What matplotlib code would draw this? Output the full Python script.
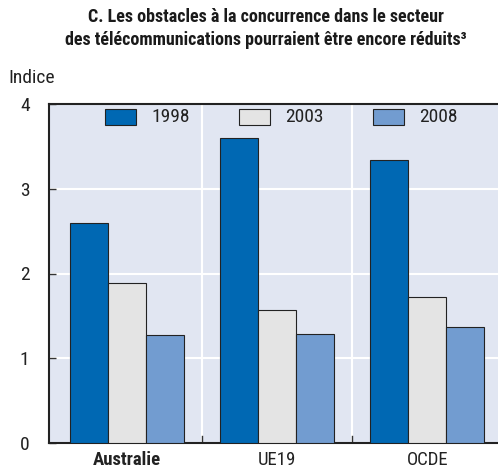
import matplotlib
matplotlib.use("Agg")
import matplotlib.pyplot as plt
from matplotlib.patches import Rectangle
import numpy as np

plt.rcParams['font.family'] = ['Roboto Condensed', 'DejaVu Sans']

categories = ["Australie", "UE19", "OCDE"]
years = ["1998", "2003", "2008"]
v1998 = [2.60, 3.60, 3.34]
v2003 = [1.89, 1.57, 1.72]
v2008 = [1.27, 1.29, 1.37]
series = [v1998, v2003, v2008]
colors = ["#0068B3", "#E4E4E4", "#729CD0"]
yticks = [0, 1, 2, 3, 4]

W, H = 498, 471
fig = plt.figure(figsize=(W / 100, H / 100), dpi=100)
ax = fig.add_axes([49 / W, 28 / H, 449 / W, 339 / H])
ax.set_facecolor("#E1E6F2")

x = np.arange(len(categories))
w = 0.253
for i, (vals, c, y) in enumerate(zip(series, colors, years)):
    ax.bar(x + (i - 1) * w, vals, w, color=c, edgecolor="#222222", linewidth=0.8, label=y, zorder=3)

ax.set_xlim(-0.52, 2.47)
ax.set_ylim(0, 4)
ax.set_yticks(yticks)
ax.set_yticklabels([str(t) for t in yticks], fontsize=14, color="#222222")
ax.yaxis.grid(True, color="white", linewidth=1.5, zorder=1)
for sep in [0.5, 1.5]:
    ax.axvline(sep, color="white", linewidth=1.5, zorder=1)
    ax.plot([sep, sep], [0, 0.08], color="#333333", linewidth=1, zorder=2)

ax.set_xticks(x)
ax.set_xticklabels(categories, fontsize=13.5, color="#222222")
ax.get_xticklabels()[0].set_fontweight("bold")
ax.tick_params(axis='x', length=0, pad=6)
ax.tick_params(axis='y', direction='in', length=5, width=1, color="#333333", pad=14)

for s in ["left", "bottom", "top"]:
    ax.spines[s].set_color("#222222")
    ax.spines[s].set_linewidth(1.5)
ax.spines["right"].set_visible(False)

# legend drawn in figure pixels
box_x = [105, 239, 373]
for bx, c, yr in zip(box_x, colors, years):
    fig.patches.append(Rectangle((bx / W, 1 - 125 / H), 31 / W, 16 / H, facecolor=c,
                                 edgecolor="#222222", linewidth=0.8, transform=fig.transFigure, zorder=5))
    fig.text((bx + 46) / W, 1 - 117.5 / H, yr, ha="left", va="center", fontsize=14, color="#222222", zorder=6)

fig.text(266 / W, 1 - 17 / H, "C. Les obstacles à la concurrence dans le secteur", ha="center", va="center",
         fontsize=13, fontweight="bold", color="#1a1a1a")
fig.text(266 / W, 1 - 40 / H, "des télécommunications pourraient être encore réduits³", ha="center", va="center",
         fontsize=13, fontweight="bold", color="#1a1a1a")
fig.text(8 / W, 1 - 78 / H, "Indice", ha="left", va="center", fontsize=14, color="#222222")

fig.savefig("out.png", dpi=100)
